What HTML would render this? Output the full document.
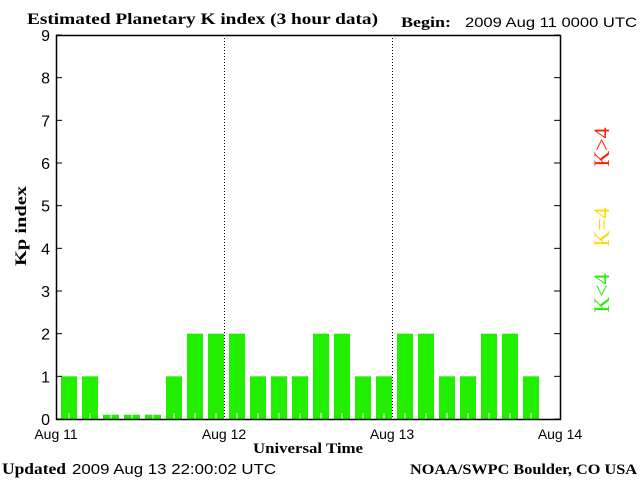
<!DOCTYPE html>
<html><head><meta charset="utf-8"><style>
body{margin:0;background:#fff}
svg{display:block}
text{font-family:"Liberation Serif",serif}
</style></head><body>
<svg id="chart" width="640" height="480">
<rect width="640" height="480" fill="#fff"/>
<text x="27" y="24" font-size="16" font-weight="bold" textLength="351" lengthAdjust="spacingAndGlyphs">Estimated Planetary K index (3 hour data)</text>
<text x="401" y="27" font-size="15" font-weight="bold" textLength="50" lengthAdjust="spacingAndGlyphs">Begin:</text>
<text x="465" y="27" font-size="14" textLength="172" lengthAdjust="spacingAndGlyphs" style="font-family:'Liberation Sans',sans-serif">2009 Aug 11 0000 UTC</text>
<g id="grid"></g>
<g id="bars"></g>
<g id="axes"></g>
<text x="26" y="226" font-size="16" font-weight="bold" textLength="80" lengthAdjust="spacingAndGlyphs" transform="rotate(-90 26 226)" text-anchor="middle">Kp index</text>
<text x="253" y="453" font-size="15" font-weight="bold" textLength="110" lengthAdjust="spacingAndGlyphs">Universal Time</text>
<text x="2" y="474" font-size="16" font-weight="bold" textLength="64" lengthAdjust="spacingAndGlyphs">Updated</text>
<text x="72" y="474" font-size="15" textLength="204" lengthAdjust="spacingAndGlyphs" style="font-family:'Liberation Sans',sans-serif">2009 Aug 13 22:00:02 UTC</text>
<text x="410" y="474" font-size="15" font-weight="bold" textLength="227" lengthAdjust="spacingAndGlyphs">NOAA/SWPC Boulder, CO USA</text>
<text x="609" y="147" font-size="22" fill="#ff2000" text-anchor="middle" transform="rotate(-90 609 147)">K&gt;4</text>
<text x="609" y="227" font-size="22" fill="#ffd800" text-anchor="middle" transform="rotate(-90 609 227)">K=4</text>
<text x="609" y="293" font-size="22" fill="#22ee00" text-anchor="middle" transform="rotate(-90 609 293)">K&lt;4</text>
</svg>
<script>
const kpValues=[1,1,0.1,0.1,0.1,1,2,2,2,1,1,1,2,2,1,1,2,2,1,1,2,2,1];
const yTicks=[0,1,2,3,4,5,6,7,8,9];
const xLabels=["Aug 11","Aug 12","Aug 13","Aug 14"];
const L=56,R=560,T=35,B=419;
const NS="http://www.w3.org/2000/svg";
function ys(v){return B-(B-T)*v/9;}
function xs(i){return L+(R-L)*i/24;}
function mk(tag,attrs,parent){const e=document.createElementNS(NS,tag);for(const k in attrs)e.setAttribute(k,attrs[k]);document.getElementById(parent).appendChild(e);return e;}
kpValues.forEach((v,i)=>{
 const x=xs(i)+5,w=(R-L)/24-5;
 const col=v>4?"#ff2000":(v==4?"#ffd800":"#22ee00");
 const b=mk("rect",{x:x,y:ys(v),width:w,height:B-ys(v),fill:col},"bars");
 
 
 const t=mk("line",{x1:x+w/2,x2:x+w/2,y1:B,y2:B-6,stroke:"#fff","stroke-width":1},"bars");
 
 
});
[1,2].forEach(d=>{
 const g=mk("line",{x1:xs(d*8)+0.5,x2:xs(d*8)+0.5,y1:T,y2:B,stroke:"#000","stroke-dasharray":"1,2"},"grid");
 
 
});
const f=mk("rect",{x:L+0.5,y:T+0.5,width:R-L,height:B-T,fill:"none",stroke:"#000","stroke-width":1.5},"axes");


yTicks.forEach(v=>{
 const y=ys(v);
 mk("line",{x1:L,x2:L+6,y1:y,y2:y,stroke:"#000"},"axes");
 mk("line",{x1:R-6,x2:R,y1:y,y2:y,stroke:"#000"},"axes");
 const t=mk("text",{x:L-6,y:y+6,"font-size":16,"text-anchor":"end",style:"font-family:'Liberation Sans',sans-serif"},"axes");
 t.textContent=v;
 
 
});
xLabels.forEach((s,i)=>{
 const t=mk("text",{x:L+(R-L)*i/3,y:439,"font-size":14,"text-anchor":"middle",style:"font-family:'Liberation Sans',sans-serif"},"axes");
 t.textContent=s;
 
 
});
</script>
</body></html>
